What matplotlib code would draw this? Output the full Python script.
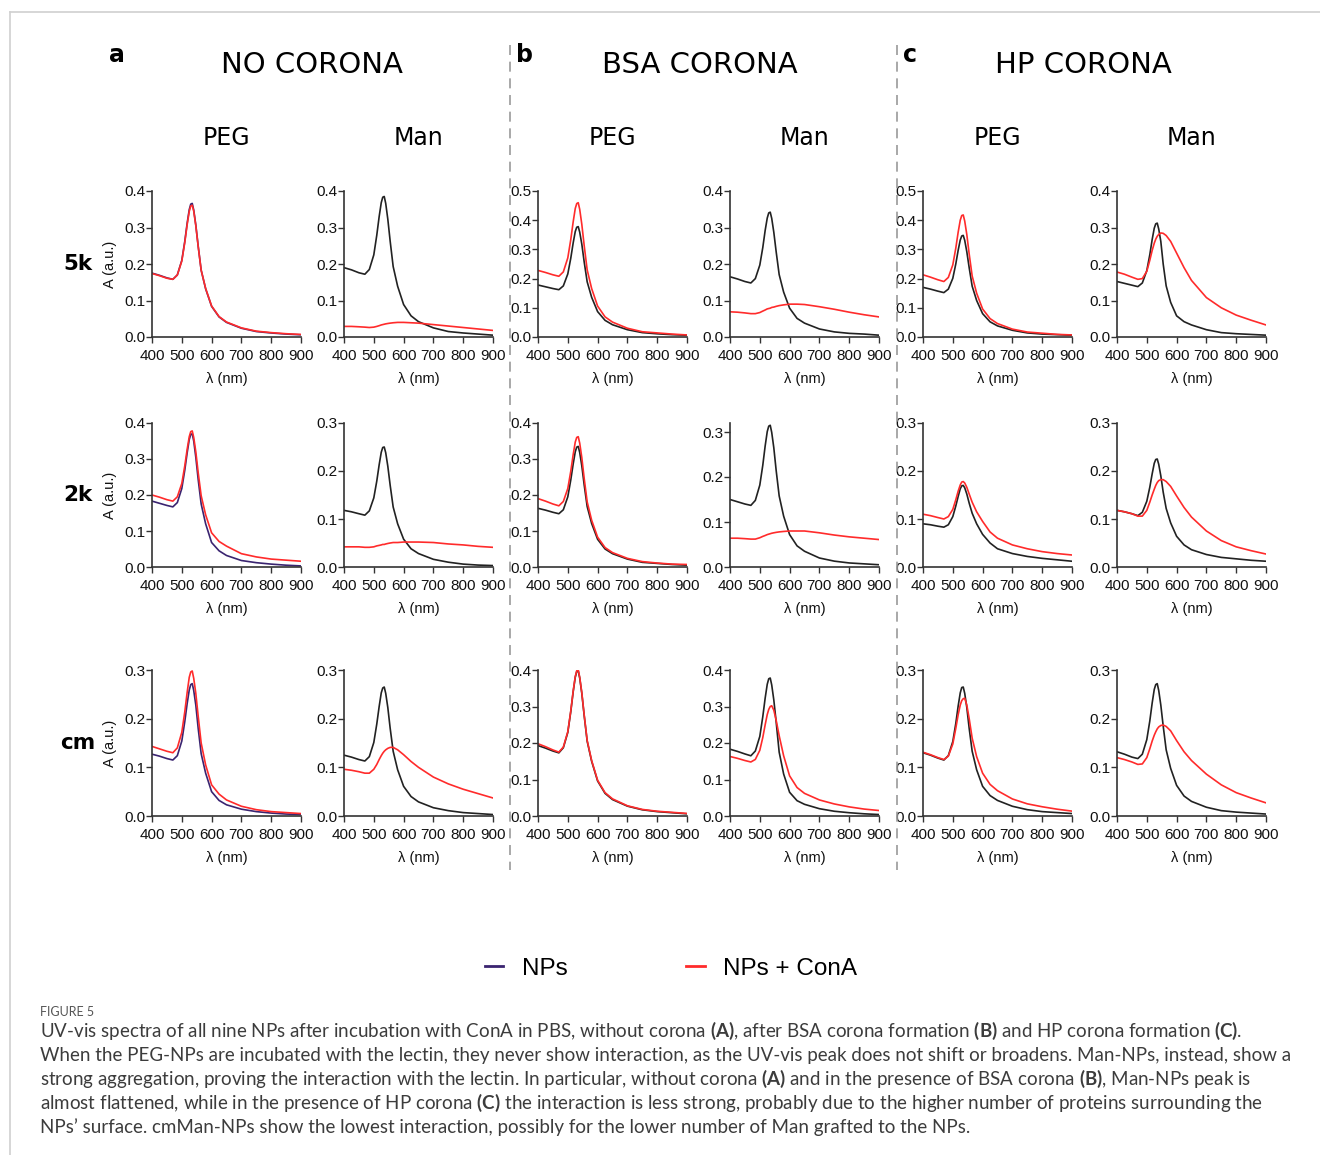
import matplotlib
matplotlib.use("Agg")
import matplotlib.pyplot as plt
from matplotlib.lines import Line2D
from matplotlib.ticker import FormatStrFormatter

wl = [400, 425, 450, 470, 485, 500, 510, 518, 525, 530, 535, 540, 547, 555, 565, 580, 600, 625, 650, 700, 750, 800, 850, 900]

# --- 5k row ---
nc_peg_5k_np = [.175, .169, .162, .158, .170, .210, .262, .312, .349, .364, .366, .348, .307, .249, .183, .132, .084, .055, .040, .024, .015, .011, .008, .006]
nc_peg_5k_cona = [.174, .168, .161, .158, .170, .208, .259, .308, .344, .359, .361, .345, .305, .248, .183, .133, .085, .056, .041, .025, .016, .012, .009, .007]
nc_man_5k_np = [.190, .184, .176, .172, .185, .225, .279, .330, .368, .383, .385, .366, .323, .262, .193, .139, .089, .058, .042, .025, .015, .011, .008, .005]
nc_man_5k_cona = [.029, .029, .028, .027, .026, .027, .029, .031, .033, .034, .035, .036, .037, .038, .039, .040, .040, .039, .038, .034, .030, .026, .022, .018]
bsa_peg_5k_np = [.178, .172, .166, .162, .175, .216, .270, .322, .361, .376, .378, .359, .318, .257, .189, .136, .087, .057, .042, .025, .015, .011, .008, .006]
bsa_peg_5k_cona = [.228, .221, .213, .208, .223, .271, .334, .394, .440, .457, .460, .437, .386, .313, .230, .166, .106, .069, .051, .030, .018, .014, .010, .007]
bsa_man_5k_np = [.165, .159, .152, .148, .160, .197, .245, .292, .326, .340, .342, .325, .287, .233, .171, .123, .079, .051, .038, .022, .014, .010, .008, .005]
bsa_man_5k_cona = [.069, .068, .066, .064, .064, .067, .071, .074, .077, .078, .079, .081, .082, .084, .086, .088, .090, .090, .089, .083, .076, .068, .061, .055]
hp_peg_5k_np = [.170, .164, .157, .152, .164, .201, .250, .297, .332, .346, .348, .331, .292, .237, .174, .125, .080, .052, .038, .023, .014, .010, .008, .006]
hp_peg_5k_cona = [.213, .205, .196, .190, .204, .247, .304, .359, .400, .416, .418, .397, .351, .284, .209, .150, .096, .063, .046, .027, .017, .013, .009, .007]
hp_man_5k_np = [.152, .147, .142, .138, .148, .182, .225, .267, .298, .310, .312, .296, .262, .200, .140, .095, .058, .042, .033, .020, .012, .009, .007, .005]
hp_man_5k_cona = [.178, .172, .164, .158, .160, .180, .210, .237, .257, .268, .276, .281, .285, .284, .278, .262, .230, .190, .155, .108, .080, .060, .046, .033]

# --- 2k row ---
nc_peg_2k_np = [.183, .177, .171, .167, .179, .218, .269, .317, .354, .368, .370, .350, .305, .243, .175, .120, .068, .045, .032, .018, .012, .008, .005, .003]
nc_peg_2k_cona = [.200, .194, .187, .183, .195, .232, .281, .327, .362, .376, .378, .360, .320, .262, .198, .145, .095, .071, .058, .037, .028, .022, .019, .016]
nc_man_2k_np = [.118, .115, .111, .108, .117, .144, .179, .213, .239, .249, .250, .238, .210, .170, .125, .090, .058, .038, .028, .016, .010, .006, .004, .003]
nc_man_2k_cona = [.042, .042, .042, .041, .041, .042, .044, .045, .046, .047, .047, .048, .049, .050, .051, .051, .052, .052, .052, .051, .048, .046, .043, .041]
bsa_peg_2k_np = [.163, .158, .152, .148, .159, .195, .242, .286, .320, .333, .335, .318, .281, .228, .168, .121, .077, .050, .037, .022, .013, .010, .007, .005]
bsa_peg_2k_cona = [.190, .183, .175, .170, .182, .218, .266, .312, .347, .360, .362, .344, .304, .246, .181, .130, .083, .054, .040, .024, .015, .011, .008, .007]
bsa_man_2k_np = [.150, .145, .140, .137, .148, .182, .226, .269, .301, .313, .315, .299, .265, .214, .158, .113, .072, .047, .035, .020, .013, .009, .007, .005]
bsa_man_2k_cona = [.064, .064, .063, .062, .062, .065, .068, .070, .072, .073, .074, .075, .076, .077, .078, .079, .080, .080, .080, .076, .071, .067, .064, .061]
hp_peg_2k_np = [.090, .088, .085, .083, .088, .105, .127, .147, .163, .169, .170, .165, .152, .133, .112, .090, .068, .050, .038, .028, .022, .018, .015, .012]
hp_peg_2k_cona = [.110, .107, .103, .100, .105, .120, .140, .158, .171, .177, .178, .175, .166, .152, .135, .115, .095, .073, .060, .046, .038, .032, .028, .025]
hp_man_2k_np = [.118, .115, .111, .107, .114, .137, .166, .194, .216, .224, .225, .214, .190, .156, .122, .092, .064, .046, .036, .026, .020, .017, .014, .012]
hp_man_2k_cona = [.118, .115, .111, .106, .106, .118, .135, .150, .162, .170, .176, .180, .182, .182, .178, .168, .148, .124, .104, .075, .055, .042, .034, .027]

# --- cm row ---
nc_peg_cm_np = [.127, .123, .118, .115, .124, .154, .194, .231, .259, .270, .272, .258, .228, .180, .128, .088, .050, .032, .023, .014, .009, .006, .004, .003]
nc_peg_cm_cona = [.143, .138, .133, .130, .140, .172, .214, .254, .285, .296, .298, .283, .252, .205, .150, .105, .064, .045, .033, .020, .013, .009, .007, .005]
nc_man_cm_np = [.125, .121, .116, .113, .122, .151, .189, .225, .253, .263, .265, .252, .223, .180, .133, .095, .061, .040, .029, .017, .011, .007, .005, .003]
nc_man_cm_cona = [.096, .094, .091, .088, .088, .096, .106, .116, .124, .129, .133, .136, .139, .141, .141, .136, .126, .112, .100, .080, .066, .055, .046, .037]
bsa_peg_cm_np = [.193, .186, .178, .173, .187, .229, .286, .340, .380, .396, .398, .378, .336, .275, .205, .150, .096, .062, .045, .027, .017, .012, .009, .006]
bsa_peg_cm_cona = [.198, .190, .181, .175, .189, .231, .288, .342, .382, .398, .400, .380, .338, .277, .207, .152, .098, .064, .047, .028, .018, .013, .010, .007]
bsa_man_cm_np = [.183, .177, .170, .165, .178, .218, .272, .323, .361, .376, .378, .359, .318, .257, .175, .115, .065, .042, .032, .020, .013, .009, .006, .004]
bsa_man_cm_cona = [.163, .158, .152, .148, .155, .180, .215, .250, .278, .292, .300, .302, .290, .262, .220, .165, .110, .078, .062, .044, .033, .025, .019, .015]
hp_peg_cm_np = [.130, .125, .119, .115, .124, .153, .190, .226, .253, .264, .265, .252, .223, .180, .133, .095, .061, .042, .032, .020, .013, .009, .007, .005]
hp_peg_cm_cona = [.131, .126, .120, .116, .123, .148, .180, .208, .228, .237, .241, .242, .228, .200, .160, .122, .088, .065, .052, .035, .025, .019, .014, .010]
hp_man_cm_np = [.132, .127, .121, .118, .127, .157, .195, .232, .260, .270, .272, .258, .228, .185, .136, .098, .063, .041, .030, .018, .011, .008, .006, .004]
hp_man_cm_cona = [.120, .116, .111, .106, .107, .120, .138, .154, .166, .173, .179, .183, .186, .187, .184, .175, .155, .132, .114, .086, .064, .048, .037, .027]

# y-axis upper limits per row (NC PEG, NC Man, BSA PEG, BSA Man, HP PEG, HP Man)
ymax_5k = [0.4, 0.4, 0.5, 0.4, 0.5, 0.4]
ymax_2k = [0.4, 0.3, 0.4, 0.32, 0.3, 0.3]
ymax_cm = [0.3, 0.3, 0.4, 0.4, 0.3, 0.3]

row_labels = ["5k", "2k", "cm"]
col_labels = ["PEG", "Man"] * 3
group_titles = ["NO CORONA", "BSA CORONA", "HP CORONA"]
group_letters = ["a", "b", "c"]

rows = [
    [(nc_peg_5k_np, nc_peg_5k_cona), (nc_man_5k_np, nc_man_5k_cona), (bsa_peg_5k_np, bsa_peg_5k_cona),
     (bsa_man_5k_np, bsa_man_5k_cona), (hp_peg_5k_np, hp_peg_5k_cona), (hp_man_5k_np, hp_man_5k_cona)],
    [(nc_peg_2k_np, nc_peg_2k_cona), (nc_man_2k_np, nc_man_2k_cona), (bsa_peg_2k_np, bsa_peg_2k_cona),
     (bsa_man_2k_np, bsa_man_2k_cona), (hp_peg_2k_np, hp_peg_2k_cona), (hp_man_2k_np, hp_man_2k_cona)],
    [(nc_peg_cm_np, nc_peg_cm_cona), (nc_man_cm_np, nc_man_cm_cona), (bsa_peg_cm_np, bsa_peg_cm_cona),
     (bsa_man_cm_np, bsa_man_cm_cona), (hp_peg_cm_np, hp_peg_cm_cona), (hp_man_cm_np, hp_man_cm_cona)],
]
ymaxes = [ymax_5k, ymax_2k, ymax_cm]

plt.rcParams["font.family"] = ["Liberation Sans", "DejaVu Sans"]
plt.rcParams["mathtext.fontset"] = "custom"
plt.rcParams["mathtext.rm"] = "Lato"
plt.rcParams["mathtext.bf"] = "Lato:bold"

W, H = 1320, 1155
fig = plt.figure(figsize=(W / 100, H / 100), dpi=100)

purple = "#3a2470"
black = "#222222"
red = "#ff2b2b"

# layout in pixels (from the reference)
lefts = [152, 344, 538, 730, 923, 1117]
ax_w = 149
row_box = [(191, 337), (423, 567), (670, 816)]

for r in range(3):
    top, bot = row_box[r]
    for c in range(6):
        ax = fig.add_axes([lefts[c] / W, 1 - bot / H, ax_w / W, (bot - top) / H])
        np_y, cona_y = rows[r][c]
        np_col = purple if c == 0 else black
        ax.plot(wl, np_y, color=np_col, lw=1.2)
        ax.plot(wl, cona_y, color=red, lw=1.2)
        ym = ymaxes[r][c]
        ax.set_xlim(400, 900)
        ax.set_ylim(0, ym)
        ax.set_xticks([400, 500, 600, 700, 800, 900])
        ax.set_yticks([t / 10 for t in range(int(ym * 10 + 1e-6) + 1)])
        ax.yaxis.set_major_formatter(FormatStrFormatter("%.1f"))
        for s in ["top", "right"]:
            ax.spines[s].set_visible(False)
        for s in ["left", "bottom"]:
            ax.spines[s].set_linewidth(1.2)
            ax.spines[s].set_color("#333333")
        ax.tick_params(direction="out", length=4, width=1, colors="#333333",
                       labelsize=11, labelcolor="#111111")
        ax.tick_params(axis="x", pad=4.5)
        ax.tick_params(axis="y", pad=1)
        ax.set_xlabel("λ (nm)", fontsize=10.5, labelpad=6.5, color="#111111")
        if c == 0:
            ax.set_ylabel("A (a.u.)", fontsize=10.5, labelpad=5, color="#111111")
        if r == 0:
            fig.text((lefts[c] + ax_w / 2) / W, 1 - 138 / H, col_labels[c],
                     ha="center", va="center", fontsize=17, family="DejaVu Sans")
    fig.text(78 / W, 1 - ((top + bot) / 2) / H, row_labels[r], ha="center", va="center",
             fontsize=15.5, fontweight="bold", family="DejaVu Sans")

# group headers
title_x = [312, 700, 1083]
letter_x = [117, 525, 910]
for g in range(3):
    fig.text(title_x[g] / W, 1 - 65 / H, group_titles[g], ha="center", va="center",
             fontsize=21, family="DejaVu Sans")
    fig.text(letter_x[g] / W, 1 - 55 / H, group_letters[g], ha="center", va="center",
             fontsize=17, fontweight="bold", family="DejaVu Sans")

# dashed separators between groups
for x in [510, 897]:
    fig.add_artist(Line2D([x / W, x / W], [1 - 45 / H, 1 - 870 / H], transform=fig.transFigure,
                          color="#9a9a9a", lw=1.2, ls=(0, (6, 4))))

# page frame
fig.add_artist(Line2D([10 / W, 1], [1 - 12 / H, 1 - 12 / H], transform=fig.transFigure, color="#d0d0d0", lw=1.2))
fig.add_artist(Line2D([10 / W, 10 / W], [1 - 12 / H, 0], transform=fig.transFigure, color="#d0d0d0", lw=1.2))

# legend
handles = [Line2D([], [], color=purple, lw=2), Line2D([], [], color=red, lw=2)]
fig.legend(handles, ["NPs", "NPs + ConA"], loc="center", bbox_to_anchor=(671 / W, 1 - 969 / H),
           ncol=2, frameon=False, fontsize=17.5, handlelength=0.75, handletextpad=0.75,
           columnspacing=4.9)

# caption
fig.text(40 / W, 1 - 1012 / H, "FIGURE 5", ha="left", va="center", fontsize=9,
         color="#555555", family="Lato")
caption = [
    r"UV-vis spectra of all nine NPs after incubation with ConA in PBS, without corona $\mathbf{(A)}$, after BSA corona formation $\mathbf{(B)}$ and HP corona formation $\mathbf{(C)}$.",
    "When the PEG-NPs are incubated with the lectin, they never show interaction, as the UV-vis peak does not shift or broadens. Man-NPs, instead, show a",
    r"strong aggregation, proving the interaction with the lectin. In particular, without corona $\mathbf{(A)}$ and in the presence of BSA corona $\mathbf{(B)}$, Man-NPs peak is",
    r"almost flattened, while in the presence of HP corona $\mathbf{(C)}$ the interaction is less strong, probably due to the higher number of proteins surrounding the",
    "NPs’ surface. cmMan-NPs show the lowest interaction, possibly for the lower number of Man grafted to the NPs.",
]
for i, line in enumerate(caption):
    fig.text(40 / W, 1 - (1031 + 24 * i) / H, line, ha="left", va="center", fontsize=13.5,
             color="#3c3c3c", family="Lato")

fig.savefig("out.png", dpi=100)
